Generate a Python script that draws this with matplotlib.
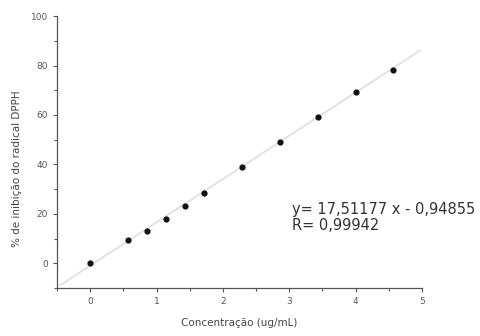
import numpy as np
import matplotlib
matplotlib.use("Agg")
import matplotlib.pyplot as plt
from matplotlib.ticker import MultipleLocator

# Data
conc = [0.0, 0.57, 0.86, 1.14, 1.43, 1.71, 2.29, 2.86, 3.43, 4.0, 4.57]
inhib = [0.0, 9.3, 13.0, 17.8, 23.0, 28.3, 38.9, 49.0, 59.0, 69.2, 78.0]
slope = 17.51177
intercept = -0.94855
fit_x = [-0.45, 4.97]

fig = plt.figure(figsize=(4.8, 3.36), dpi=100)
ax = fig.add_axes([0.119, 0.143, 0.760, 0.809])

fx = np.array(fit_x)
ax.plot(fx, slope * fx + intercept, color="#e0e0e0", lw=1.3, zorder=1)
ax.scatter(conc, inhib, s=12, color="#111111", marker="o", zorder=2)

ax.set_xlim(-0.5, 5)
ax.set_ylim(-10, 100)
ax.xaxis.set_major_locator(MultipleLocator(1))
ax.xaxis.set_minor_locator(MultipleLocator(0.5))
ax.yaxis.set_major_locator(MultipleLocator(20))
ax.yaxis.set_minor_locator(MultipleLocator(10))

for s in ["top", "right"]:
    ax.spines[s].set_visible(False)
for s in ["left", "bottom"]:
    ax.spines[s].set_color("#555555")
    ax.spines[s].set_linewidth(0.9)
ax.tick_params(which="both", direction="out", colors="#555555", labelsize=6.5, width=0.8)
ax.tick_params(which="major", length=3)
ax.tick_params(which="minor", length=2)

ax.set_xlabel("Concentração (ug/mL)", fontsize=7.5, color="#444444", labelpad=9)
ax.set_ylabel("% de inibição do radical DPPH", fontsize=7.5, color="#444444", labelpad=10)
ax.yaxis.set_label_coords(-0.095, 0.44)

ax.text(3.04, 18.5, "y= 17,51177 x - 0,94855\nR= 0,99942", fontsize=10.5,
        color="#333333", linespacing=1.05, va="center")

fig.savefig("out.png", dpi=100)
